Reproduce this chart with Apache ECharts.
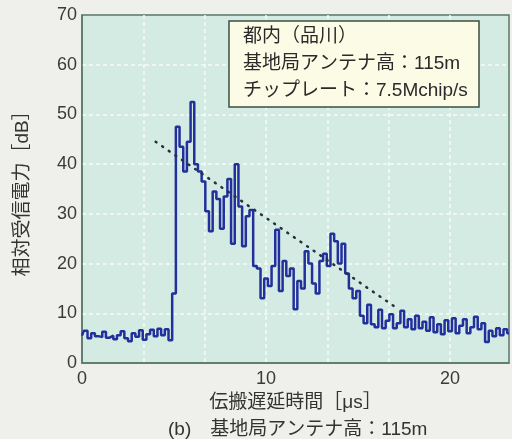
<!DOCTYPE html>
<html>
<head>
<meta charset="utf-8">
<script src="https://cdn.jsdelivr.net/npm/echarts@6/dist/echarts.min.js"></script>
<style>
  html, body { margin: 0; padding: 0; background: #efefeb; }
  #chart { width: 512px; height: 439px; }
</style>
</head>
<body>
<div id="chart"></div>
<script>
// 遅延時間 [μs]
const delayUs = [
  0.0, 0.2, 0.4, 0.6, 0.8, 1.0, 1.2, 1.4, 1.6, 1.8, 2.0, 2.2, 2.4, 2.6, 2.8, 3.0, 3.2, 3.4, 3.6, 3.8,
  4.0, 4.2, 4.4, 4.6, 4.8, 5.0, 5.2, 5.4, 5.6, 5.8, 6.0, 6.2, 6.4, 6.6, 6.8, 7.0, 7.2, 7.4, 7.6, 7.8,
  8.0, 8.2, 8.4, 8.6, 8.8, 9.0, 9.2, 9.4, 9.6, 9.8, 10.0, 10.2, 10.4, 10.6, 10.8, 11.0, 11.2, 11.4, 11.6, 11.8,
  12.0, 12.2, 12.4, 12.6, 12.8, 13.0, 13.2, 13.4, 13.6, 13.8, 14.0, 14.2, 14.4, 14.6, 14.8, 15.0, 15.2, 15.4, 15.6, 15.8,
  16.0, 16.2, 16.4, 16.6, 16.8, 17.0, 17.2, 17.4, 17.6, 17.8, 18.0, 18.2, 18.4, 18.6, 18.8, 19.0, 19.2, 19.4, 19.6, 19.8,
  20.0, 20.2, 20.4, 20.6, 20.8, 21.0, 21.2, 21.4, 21.6, 21.8, 22.0, 22.2, 22.4, 22.6, 22.8, 23.0, 23.2
]

// 相対受信電力 [dB]
const powerDb = [
  5.5, 6.5, 5.0, 6.0, 5.4, 5.2, 6.3, 5.1, 5.5, 4.8, 5.6, 6.4, 5.0, 4.4, 6.0, 5.3, 6.6, 4.7, 5.8, 6.7,
  5.4, 6.9, 5.6, 6.8, 4.6, 14.0, 47.5, 43.5, 38.5, 44.5, 52.5, 40.0, 38.5, 36.5, 30.5, 26.5, 34.5, 33.0, 27.0, 33.5,
  37.0, 24.0, 40.0, 31.5, 23.5, 29.5, 30.8, 19.5, 19.0, 13.0, 17.0, 15.5, 19.5, 26.8, 14.5, 20.5, 17.5, 19.0, 10.8, 16.5,
  15.0, 22.5, 20.0, 16.0, 14.0, 20.5, 22.0, 19.5, 26.0, 24.5, 20.0, 24.0, 18.0, 15.0, 13.0, 14.5, 9.5, 8.0, 11.7, 7.8,
  7.2, 10.7, 7.0, 8.5, 9.8, 7.0, 8.0, 10.5, 7.2, 8.8, 6.8, 9.5, 7.0, 8.3, 6.5, 9.2, 6.2, 7.8, 5.8, 8.6,
  6.4, 9.0, 6.0, 7.5, 8.8, 6.0, 7.2, 9.3, 6.8, 8.0, 4.2, 6.5, 5.4, 7.0, 5.6, 6.8, 6.0
]

// 点線（減衰の包絡線）
const trendX = [4.0, 17.2]
const trendY = [44.5, 10.8]

const xTicks = [0, 10, 20]
const infoLines = ['都内（品川）', '基地局アンテナ高：115m', 'チップレート：7.5Mchip/s']
const caption = '(b)　基地局アンテナ高：115m'

const font = '"Liberation Sans", "Noto Sans CJK JP", sans-serif'

const chart = echarts.init(document.getElementById('chart'))

const gridLine = {
  show: true,
  showMinLine: false,
  showMaxLine: false,
  lineStyle: { color: '#f6fbf9', width: 1.5, type: [4, 3] }
}

const option = {
  backgroundColor: '#efefeb',
  animation: false,
  grid: {
    left: 82,
    right: 0,
    top: 15,
    bottom: 76,
    show: true,
    backgroundColor: '#d4ebe3',
    borderColor: '#587868',
    borderWidth: 1.5
  },
  xAxis: {
    type: 'value',
    min: 0,
    max: 23.2,
    interval: 10 / 3,
    name: '伝搬遅延時間［μs］',
    nameLocation: 'middle',
    nameGap: 26,
    nameTextStyle: { fontFamily: font, fontSize: 19, color: '#333' },
    axisLine: { show: true, lineStyle: { color: '#587868', width: 1.5 } },
    axisTick: { show: false },
    axisLabel: {
      fontFamily: font,
      fontSize: 18,
      color: '#3a3a3a',
      margin: 7,
      formatter: (v) => {
        const t = xTicks.find(k => Math.abs(k - v) < 0.01)
        return t === undefined ? '' : String(t)
      }
    },
    splitLine: gridLine
  },
  yAxis: {
    type: 'value',
    min: 0,
    max: 70,
    interval: 10,
    name: '相対受信電力［dB］',
    nameLocation: 'middle',
    nameGap: 50,
    nameTextStyle: { fontFamily: font, fontSize: 19, color: '#333' },
    axisLine: { show: true, lineStyle: { color: '#587868', width: 1.5 } },
    axisTick: { show: false },
    axisLabel: { fontFamily: font, fontSize: 18, color: '#3a3a3a', margin: 5 },
    splitLine: gridLine
  },
  series: [
    {
      type: 'line',
      step: 'middle',
      showSymbol: false,
      data: delayUs.map((x, i) => [x, powerDb[i]]),
      lineStyle: { color: '#22309c', width: 2.5 },
      z: 3
    },
    {
      type: 'line',
      showSymbol: false,
      data: trendX.map((x, i) => [x, trendY[i]]),
      lineStyle: { color: '#263040', width: 2.5, type: [1, 7], cap: 'round' },
      z: 4
    }
  ],
  graphic: [
    {
      type: 'rect',
      shape: { x: 229, y: 21, width: 250, height: 86 },
      style: { fill: '#fbfbe6', stroke: '#3e4e42', lineWidth: 1.5 },
      z: 10
    },
    ...infoLines.map((t, i) => ({
      type: 'text',
      x: 243,
      y: 37 + i * 27,
      style: { text: t, font: '19px ' + font, fill: '#2a2a2a', verticalAlign: 'middle' },
      z: 11
    })),
    {
      type: 'text',
      x: 168,
      y: 430,
      style: { text: caption, font: '19px ' + font, fill: '#333', verticalAlign: 'middle' },
      z: 11
    }
  ]
}

chart.setOption(option)
</script>
</body>
</html>
